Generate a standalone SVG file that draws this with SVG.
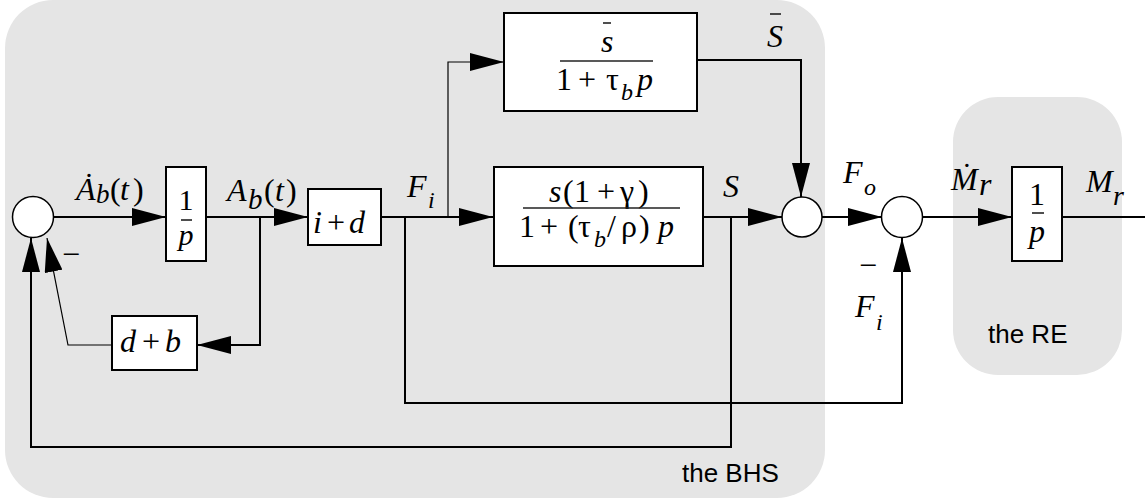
<svg xmlns="http://www.w3.org/2000/svg" width="1145" height="502" viewBox="0 0 1145 502">
<style>
.region{fill:#e5e5e5}
.blk{fill:#fff;stroke:#000;stroke-width:2}
.sum{fill:#fff;stroke:#000;stroke-width:1.5}
.w{fill:none;stroke:#000;stroke-width:2}
.thin{fill:none;stroke:#000;stroke-width:1.2}
.bar{stroke:#222;stroke-width:1.6}
.m{font-family:"Liberation Serif","Times New Roman",serif;font-size:32px;fill:#000}
.s{font-size:24px}
.i{font-style:italic}
.lab{font-family:"Liberation Sans",Arial,sans-serif;font-size:26px;fill:#000}
</style>
<defs>
<marker id="ah" markerUnits="userSpaceOnUse" markerWidth="34" markerHeight="18" viewBox="0 0 34 18" refX="34" refY="9" orient="auto"><path d="M0,0L34,9L0,18z" fill="#000"/></marker>
</defs>

<g id="region-bhs">
<rect class="region" x="5" y="0" width="820" height="498" rx="48"/>
<text class="lab" x="682" y="482">the BHS</text>
</g>
<g id="region-re">
<rect class="region" x="953" y="97" width="169" height="278" rx="45"/>
<text class="lab" x="988" y="343">the RE</text>
</g>

<g id="connectors">
<path class="w" d="M53.5,217H166" marker-end="url(#ah)"/>
<path class="w" d="M206,217H308" marker-end="url(#ah)"/>
<path class="w" d="M260,217V345H197" marker-end="url(#ah)"/>
<path class="thin" d="M112,345H68L47,238" marker-end="url(#ah)"/>
<path class="w" d="M381,217H493" marker-end="url(#ah)"/>
<path class="thin" d="M448,218V62H504" marker-end="url(#ah)"/>
<path class="w" d="M405,217V403H902V238" marker-end="url(#ah)"/>
<path class="w" d="M703,217H782" marker-end="url(#ah)"/>
<path class="w" d="M731,217V447H31V238" marker-end="url(#ah)"/>
<path class="w" d="M697,60H801V197" marker-end="url(#ah)"/>
<path class="w" d="M822,217H882" marker-end="url(#ah)"/>
<path class="w" d="M923,217H1012" marker-end="url(#ah)"/>
<path class="w" d="M1062,217H1145"/>
</g>

<g id="sum-left">
<circle class="sum" cx="33" cy="217" r="20.5"/>
<text class="m" x="71" y="265" text-anchor="middle">−</text>
</g>
<g id="int-bhs">
<rect class="blk" x="166" y="167" width="40" height="94"/>
<text class="m" x="186" y="210" text-anchor="middle" style="font-size:30px">1</text>
<line class="bar" x1="181" y1="220" x2="192" y2="220"/>
<text class="m i" x="186" y="245" text-anchor="middle" style="font-size:30px">p</text>
</g>
<g id="block-id">
<rect class="blk" x="308" y="189" width="73" height="56"/>
<text class="m"><tspan class="i" x="313" y="233">i</tspan><tspan x="327" y="233">+</tspan><tspan class="i" x="349" y="233">d</tspan></text>
</g>
<g id="block-db">
<rect class="blk" x="112" y="316" width="85" height="54"/>
<text class="m"><tspan class="i" x="120" y="352">d</tspan><tspan x="142" y="352">+</tspan><tspan class="i" x="165" y="352">b</tspan></text>
</g>
<g id="block-top">
<rect class="blk" x="504" y="13" width="193" height="98"/>
<text class="m i" x="601" y="52">s</text>
<line class="bar" x1="603" y1="23" x2="611" y2="23"/>
<line class="bar" x1="560" y1="61" x2="653" y2="61"/>
<text class="m"><tspan x="556" y="90">1</tspan><tspan x="578" y="90">+</tspan><tspan x="606" y="90">τ</tspan><tspan class="i s" x="621" y="100">b</tspan><tspan class="i" x="637" y="90">p</tspan></text>
</g>
<g id="block-main">
<rect class="blk" x="494" y="167" width="209" height="99"/>
<text class="m"><tspan class="i" x="549" y="202">s</tspan><tspan x="563" y="202">(</tspan><tspan x="574" y="202">1</tspan><tspan x="597" y="202">+</tspan><tspan x="620" y="202">γ</tspan><tspan x="638" y="202">)</tspan></text>
<line class="bar" x1="523" y1="208" x2="680" y2="208"/>
<text class="m"><tspan x="519" y="237">1</tspan><tspan x="540" y="237">+</tspan><tspan x="568" y="237">(</tspan><tspan x="578" y="237">τ</tspan><tspan class="i s" x="594" y="247">b</tspan><tspan x="607" y="237">/</tspan><tspan x="621" y="237">ρ</tspan><tspan x="639" y="237">)</tspan><tspan class="i" x="658" y="237">p</tspan></text>
</g>
<g id="sum-a">
<circle class="sum" cx="802" cy="217" r="20"/>
</g>
<g id="sum-b">
<circle class="sum" cx="902" cy="217" r="20.5"/>
<text class="m" x="868" y="276" text-anchor="middle">−</text>
</g>
<g id="int-re">
<rect class="blk" x="1012" y="167" width="50" height="94"/>
<text class="m" x="1037" y="205" text-anchor="middle">1</text>
<line class="bar" x1="1032" y1="213" x2="1044" y2="213"/>
<text class="m i" x="1037" y="242" text-anchor="middle">p</text>
</g>

<g id="labels">
<text class="m"><tspan class="i" x="76" y="200">Ȧ</tspan><tspan class="i" x="96" y="203" style="font-size:27px">b</tspan><tspan x="110" y="200">(</tspan><tspan class="i" x="120" y="200">t</tspan><tspan x="133" y="200">)</tspan></text>
<text class="m"><tspan class="i" x="227" y="201">A</tspan><tspan class="i" x="248" y="209" style="font-size:29px">b</tspan><tspan x="264" y="201">(</tspan><tspan class="i" x="275" y="201">t</tspan><tspan x="286" y="201">)</tspan></text>
<text class="m"><tspan class="i" x="407" y="197">F</tspan><tspan class="i s" x="428" y="208">i</tspan></text>
<text class="m i" x="723" y="197">S</text>
<text class="m i" x="767" y="47">S</text>
<line class="bar" x1="770" y1="14" x2="781" y2="14"/>
<text class="m"><tspan class="i" x="843" y="183">F</tspan><tspan class="i s" x="864" y="195">o</tspan></text>
<text class="m"><tspan class="i" x="855" y="317">F</tspan><tspan class="i s" x="876" y="330">i</tspan></text>
<text class="m"><tspan class="i" x="951" y="190">Ṁ</tspan><tspan class="i" x="979" y="195">r</tspan></text>
<text class="m"><tspan class="i" x="1086" y="192">M</tspan><tspan class="i" x="1113" y="205" style="font-size:28px">r</tspan></text>
</g>
</svg>
